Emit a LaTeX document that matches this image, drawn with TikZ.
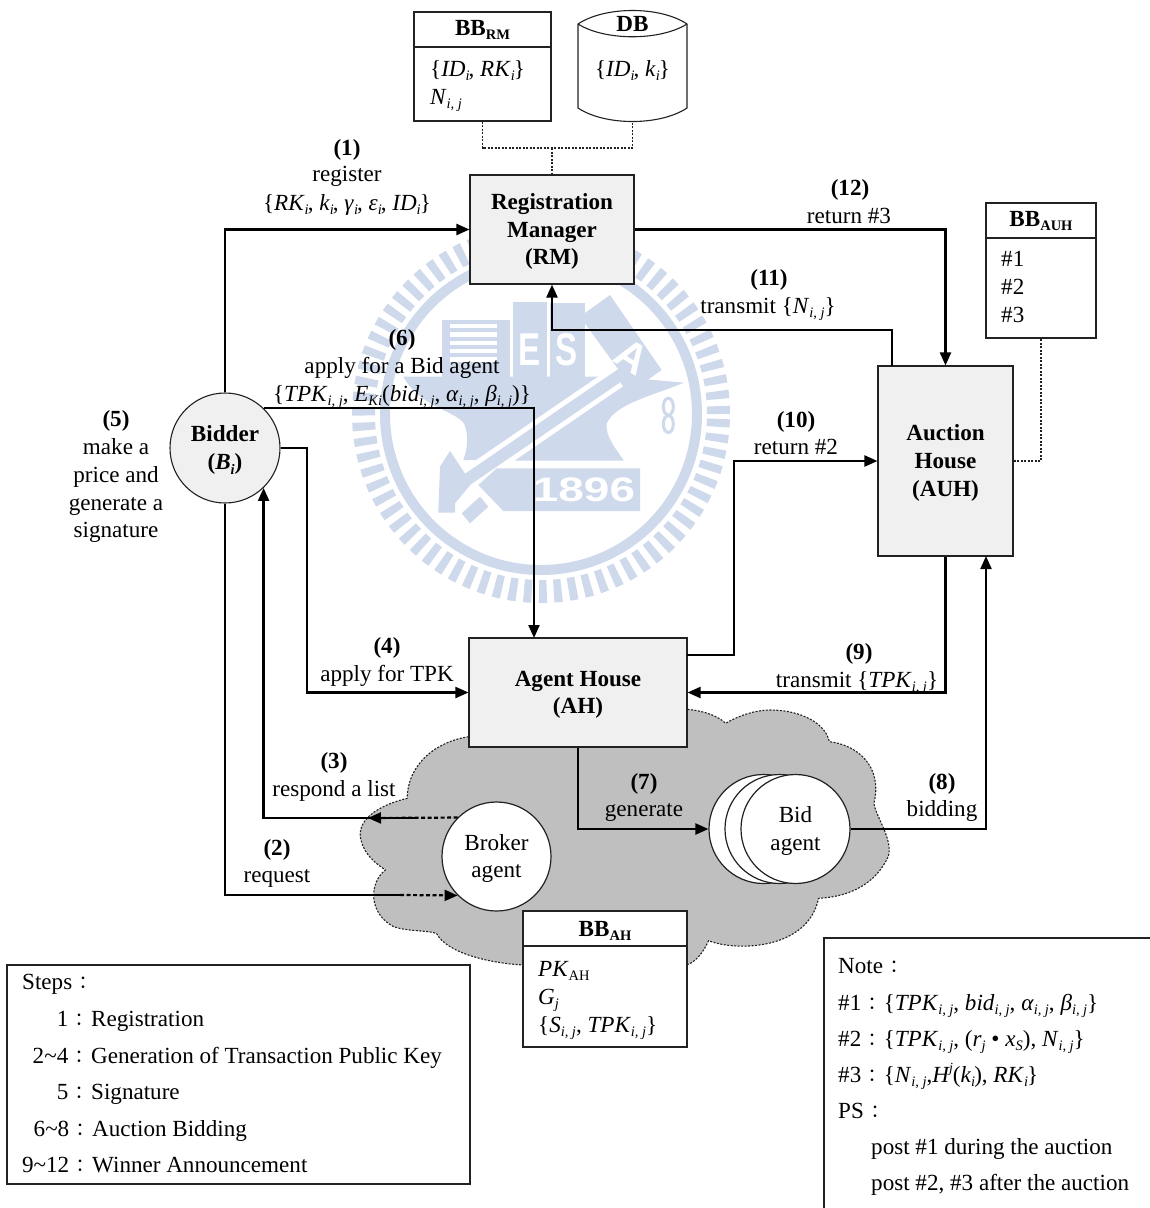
\documentclass[tikz,border=0pt]{standalone}
\usepackage{fontspec}
\setmainfont{Liberation Serif}
\newfontfamily\cjk{Noto Sans CJK TC}
\newfontfamily\wmsans{Liberation Sans}
\usetikzlibrary{arrows.meta}
\definecolor{wm}{HTML}{CFD9EC}
\definecolor{boxgray}{HTML}{F0F0F0}
\definecolor{cloudgray}{HTML}{BFBFBF}
\definecolor{ink}{HTML}{222222}
\newcommand\subt[1]{\raisebox{-.2em}{\fontsize{14.5}{14.5}\selectfont #1}}
\newcommand\supt[1]{\raisebox{.42em}{\fontsize{14}{14}\selectfont #1}}
\newcommand\subi{\subt{\textit{i}}\kern-1pt}
\newcommand\subij{\subt{\textit{i,\kern3.5pt j}}}
\newcommand\cc{\makebox[22.5pt]{\raisebox{-.03em}{\cjk\fontsize{18}{18}\selectfont ：}}}
\newcommand\dn{\rule{0pt}{20pt}}
\tikzset{
  lab/.style={anchor=base,inner sep=0pt,text=black},
  lableft/.style={anchor=base west,inner sep=0pt,text=black},
  labright/.style={anchor=base east,inner sep=0pt,text=black},
  headbold/.style={lab,font=\fontsize{23.1}{27}\selectfont\bfseries},
  actor/.style={draw=ink,line width=1.1pt,fill=boxgray,align=center,inner sep=0pt,font=\fontsize{23.1}{27.7}\selectfont\bfseries},
  board/.style={draw=ink,line width=1.1pt,fill=white,inner sep=0pt},
  circ/.style={circle,draw=ink,line width=1.2pt,fill=white,minimum size=109pt,inner sep=0pt,align=center},
  flow/.style={draw=black,line width=2.2pt,-{Triangle[length=13pt,width=11pt]}},
  flowplain/.style={draw=black,line width=2.2pt},
  flowdash/.style={draw=black,line width=2.2pt,dash pattern=on 4pt off 2.5pt},
  link/.style={draw=ink,line width=1.1pt,dash pattern=on 2pt off 1.5pt},
  wmletter/.style={inner sep=0pt,text=white,font=\wmsans\bfseries\fontsize{46}{46}\selectfont},
}
\begin{document}
\begin{tikzpicture}[x=1pt,y=-1pt,every node/.style={font=\fontsize{23.1}{27.7}\selectfont}]
\useasboundingbox (0,0) rectangle (1150,1208);
\fill[white] (0,0) rectangle (1150,1208);

% watermark seal
\draw[wm,line width=23pt,dash pattern=on 7.9pt off 7pt] (541,414) circle (177.5pt);
\draw[wm,line width=10pt] (541,414) circle (156pt);
\begin{scope}[shift={(340,220)},x=0.33333pt,y=-0.33333pt]
  \fill[wm] (305,300) rectangle (510,475);
  \foreach \yy in {312,337,362,387,412}{\fill[white] (330,\yy) rectangle (470,\yy+13);}
  \fill[wm] (520,245) rectangle (620,475);
  \fill[wm] (630,250) rectangle (735,475);
  \fill[wm] (810,225) -- (965,450) -- (880,510) -- (720,290) -- cycle;
  \fill[wm] (190,470) -- (830,470) -- (1032,488) .. controls (930,530) and (830,550) .. (800,610)
     .. controls (795,650) and (830,690) .. (852,722) -- (510,722) -- (420,720) -- (370,720)
     .. controls (385,680) and (385,640) .. (372,610) .. controls (340,570) and (240,560) .. (190,470) -- cycle;
  \draw[white,line width=22pt] (365,790) -- (830,472);
  \draw[wm,line width=12pt] (365,790) -- (845,462);
  \fill[wm] (330,693) -- (395,790) -- (345,850) -- (345,878) -- (295,878) -- (300,740) -- cycle;
  \fill[wm] (365,880) -- (390,910) -- (445,860) -- (420,830) -- cycle;
  \fill[wm] (415,795) -- (470,745) -- (900,745) -- (900,873) -- (490,873) -- cycle;
  \draw[wm,line width=3pt] (985,560) ellipse (5pt and 8.5pt);
  \draw[wm,line width=3pt] (985,612) ellipse (5pt and 8.5pt);
\end{scope}
\node[inner sep=0pt,text=white,font=\wmsans\bfseries\fontsize{34}{34}\selectfont,xscale=1.35] (wm1896) at (584,490) {1896};
\node[wmletter,xscale=.72] (wmE) at (530,350) {E};
\node[wmletter,xscale=.72] (wmS) at (567,350) {S};
\node[wmletter,font=\wmsans\bfseries\fontsize{42}{42}\selectfont,rotate=-33] (wmA) at (632,357) {A};

% cloud
\begin{scope}[shift={(340,700)},x=0.35714pt,y=-0.33333pt]
\path[fill=cloudgray,draw=ink,line width=1.1pt,dash pattern=on 2pt off 1.5pt]
  (360,110) .. controls (270,125) and (190,190) .. (188,295)
  .. controls (110,315) and (40,360) .. (60,425)
  .. controls (70,465) and (100,490) .. (127,510)
  .. controls (80,550) and (80,640) .. (150,680)
  .. controls (190,695) and (240,690) .. (270,700)
  .. controls (300,760) and (420,790) .. (515,795)
  -- (970,795)
  .. controls (1000,785) and (1020,750) .. (1032,722)
  .. controls (1110,755) and (1310,750) .. (1340,595)
  .. controls (1430,590) and (1500,550) .. (1535,470)
  .. controls (1550,420) and (1500,350) .. (1495,310)
  .. controls (1520,200) and (1450,135) .. (1370,125)
  .. controls (1360,70) and (1290,30) .. (1205,30)
  .. controls (1160,30) and (1110,50) .. (1080,70)
  .. controls (1050,40) and (1000,30) .. (970,28) -- cycle;
\end{scope}

% actors
\node[actor,minimum width=164pt,minimum height=109pt] (rm) at (552,229.5) {\dn Registration\\Manager\\(RM)};
\node[actor,minimum width=135pt,minimum height=190pt] (auh) at (945.5,461) {\dn Auction\\House\\(AUH)};
\node[actor,minimum width=218pt,minimum height=109pt] (ah) at (578,692.5) {\dn Agent House\\(AH)};
\node[actor,circle,minimum size=110pt] (bidder) at (225,448) {\dn Bidder\\(\textit{B\subt{i}})};

% agents
\node[circ] (broker) at (496.5,856.5) {\dn Broker\\agent};
\node[circ] (bida) at (763.5,829) {};
\node[circ] (bidb) at (779.5,829) {};
\node[circ] (bidc) at (795.5,829) {\dn Bid\\agent};

% boards
\node[board,minimum width=137pt,minimum height=109pt] (bbrm) at (482.5,66.5) {};
\draw[draw=ink,line width=1.1pt] (bbrm.west |- 0,47) -- (bbrm.east |- 0,47);
\node[board,minimum width=110pt,minimum height=135pt] (bbauh) at (1041,270.5) {};
\draw[draw=ink,line width=1.1pt] (bbauh.west |- 0,238) -- (bbauh.east |- 0,238);
\node[board,minimum width=164pt,minimum height=136pt] (bbah) at (605,979) {};
\draw[draw=ink,line width=1.1pt] (bbah.west |- 0,946) -- (bbah.east |- 0,946);
\coordinate (dbb) at (632.5,121);
\draw[draw=ink,line width=1.1pt,fill=white] (578,24) .. controls (605,6) and (660,6) .. (687,24)
  -- (687,108) .. controls (660,126) and (605,126) .. (578,108) -- cycle;
\draw[draw=ink,line width=1.1pt] (578,24) .. controls (605,41) and (660,41) .. (687,24);

% legend frames
\node[board,minimum width=463pt,minimum height=219pt] (steps) at (238.5,1074.5) {};
\draw[draw=ink,line width=1.3pt] (824,1208) -- (824,938) -- (1150,938);

% dotted links
\coordinate (jn) at (552,148);
\draw[link] (bbrm.south) |- (jn) -| (dbb);
\draw[link] (jn) -- (rm.north);
\draw[link] (auh.east) -| (bbauh.south);

% flows
\coordinate (k4) at (307,448);
\coordinate (ah6) at (534,638);
\coordinate (s3) at (417,818);
\coordinate (s2) at (400,895);
\coordinate (auh8) at (986,556);
\coordinate (ah10) at (687,655);
\coordinate (k10) at (734,461);
\coordinate (auh11) at (892,366);
\coordinate (k11) at (552,330);
\draw[flow] (bidder.north) |- (rm.west);
\draw[flow] (bidder.46.4) -| (ah6);
\draw[flow] (bidder.east) -- (k4) |- (ah.west);
\draw[flow] (s3) -| (bidder.-46.4);
\draw[flowdash,-{Triangle[length=13pt,width=11pt]}] (broker.135) -- (368,818);
\draw[flowplain] (bidder.south) |- (s2);
\draw[flowdash,-{Triangle[length=13pt,width=11pt]}] (s2) -- (broker.225);
\draw[flow] (ah.south) |- (bida.west);
\draw[flow] (bidc.east) -| (auh8);
\draw[flow] (auh.south) |- (ah.east);
\draw[flow] (ah10) -| (k10) -- (auh.west);
\draw[flow] (auh11) |- (k11) -- (rm.south);
\draw[flow] (rm.east) -| (auh.north);

% flow labels
\node[headbold] (t1) at (347,155) {(1)};
\node[lab] (t1a) at (347,181) {register};
\node[lab] (t1b) at (347,210) {\{\textit{RK}\subi, \textit{k}\subi, \textit{γ}\subi, \textit{ε}\subi, \textit{ID}\subi\}};
\node[headbold] (t12) at (850,195) {(12)};
\node[lab] (t12a) at (849,223) {return \#3};
\node[headbold] (t11) at (769,285) {(11)};
\node[lab] (t11a) at (768,313) {transmit \{\textit{N}\subij\}};
\node[headbold] (t6) at (402,345) {(6)};
\node[lab] (t6a) at (402,373) {apply for a Bid agent};
\node[lab] (t6b) at (402,401) {\{\textit{TPK}\subij, \textit{E}\subt{\textit{Ki}}(\textit{bid}\subij, \textit{α}\subij, \textit{β}\subij)\}};
\node[headbold] (t10) at (796,427) {(10)};
\node[lab] (t10a) at (796,454) {return \#2};
\node[headbold] (t5) at (116,426) {(5)};
\node[lab] (t5a) at (116,454) {make a};
\node[lab] (t5b) at (116,482) {price and};
\node[lab] (t5c) at (116,510) {generate a};
\node[lab] (t5d) at (116,537) {signature};
\node[headbold] (t4) at (387,653) {(4)};
\node[lab] (t4a) at (387,681) {apply for TPK};
\node[headbold] (t9) at (859,659) {(9)};
\node[lab] (t9a) at (857,687) {transmit \{\textit{TPK}\subij\}};
\node[headbold] (t3) at (334,768) {(3)};
\node[lab] (t3a) at (334,796) {respond a list};
\node[headbold] (t7) at (644,789) {(7)};
\node[lab] (t7a) at (644,816) {generate};
\node[headbold] (t8) at (942,789) {(8)};
\node[lab] (t8a) at (942,816) {bidding};
\node[headbold] (t2) at (277,855) {(2)};
\node[lab] (t2a) at (277,882) {request};

% board contents
\node[headbold] (brmh) at (482.5,35) {BB\subt{RM}};
\node[lableft] (brm1) at (430,76) {\{\textit{ID}\subi, \textit{RK}\subi\}};
\node[lableft] (brm2) at (430,104) {\textit{N}\subij};
\node[headbold] (dbh) at (632.5,31) {DB};
\node[lab] (db1) at (632.5,76) {\{\textit{ID}\subi, \textit{k}\subi\}};
\node[headbold] (bah) at (1041,226) {BB\subt{AUH}};
\node[lableft] (ba1) at (1001,266) {\#1};
\node[lableft] (ba2) at (1001,294) {\#2};
\node[lableft] (ba3) at (1001,322) {\#3};
\node[headbold] (bhh) at (605,936) {BB\subt{AH}};
\node[lableft] (bh1) at (538,976) {\textit{PK}\subt{AH}};
\node[lableft] (bh2) at (538,1004) {\textit{G\subt{j}}};
\node[lableft] (bh3) at (538,1032) {\{\textit{S}\subij, \textit{TPK}\subij\}};

% steps legend
\node[lableft] (s0) at (22,989) {Steps\cc};
\node[labright] (s1n) at (91,1026) {1\cc};
\node[lableft] (s1t) at (91,1026) {Registration};
\node[labright] (s2n) at (91,1063) {2\textasciitilde4\cc};
\node[lableft] (s2t) at (91,1063) {Generation of Transaction Public Key};
\node[labright] (s3n) at (91,1099) {5\cc};
\node[lableft] (s3t) at (91,1099) {Signature};
\node[labright] (s4n) at (92,1136) {6\textasciitilde8\cc};
\node[lableft] (s4t) at (92,1136) {Auction Bidding};
\node[labright] (s5n) at (92,1172) {9\textasciitilde12\cc};
\node[lableft] (s5t) at (92,1172) {Winner Announcement};

% note legend
\node[lableft] (n0) at (838,973) {Note\cc};
\node[lableft] (n1) at (838,1010) {\#1\cc\{\textit{TPK}\subij, \textit{bid}\subij, \textit{α}\subij, \textit{β}\subij\}};
\node[lableft] (n2) at (838,1046) {\#2\cc\{\textit{TPK}\subij, (\textit{r\subt{j}} • \textit{x\subt{S}}), \textit{N}\subij\}};
\node[lableft] (n3) at (838,1082) {\#3\cc\{\textit{N}\subij,\textit{H}\kern-1pt\supt{\textit{j}}(\textit{k}\subi), \textit{RK}\subi\}};
\node[lableft] (n4) at (838,1118) {PS\cc};
\node[lableft] (n5) at (871,1154) {post \#1 during the auction};
\node[lableft] (n6) at (871,1190) {post \#2, \#3 after the auction};
\end{tikzpicture}
\end{document}
